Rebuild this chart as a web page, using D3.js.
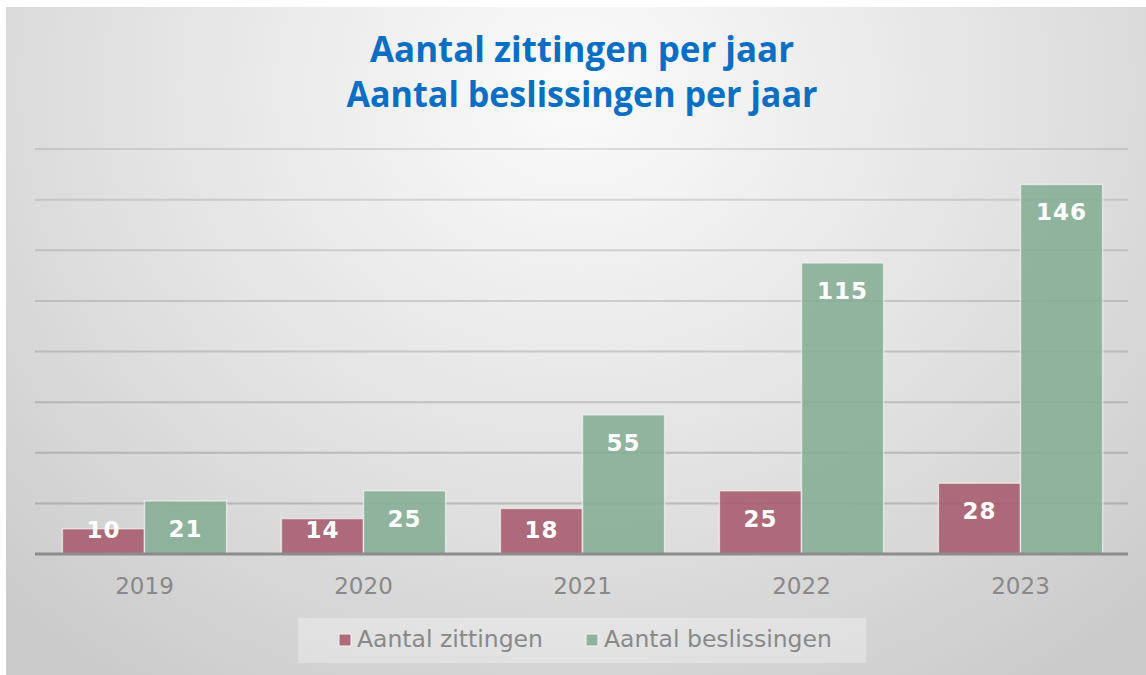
<!DOCTYPE html>
<html>
<head>
<meta charset="utf-8">
<script src="https://cdn.jsdelivr.net/npm/d3@7"></script>
<style>
  html, body { margin: 0; padding: 0; background: #fff; }
  svg { display: block; }
</style>
</head>
<body>
<script>
// chart data
var years = ["2019", "2020", "2021", "2022", "2023"];
var zittingen = [10, 14, 18, 25, 28];
var beslissingen = [21, 25, 55, 115, 146];
var seriesNames = ["Aantal zittingen", "Aantal beslissingen"];
var titleLines = ["Aantal zittingen per jaar", "Aantal beslissingen per jaar"];
var yTicks = [0, 20, 40, 60, 80, 100, 120, 140, 160];

var W = 1146, H = 675;
var colors = ["#a65a6d", "#85ad95"];

var svg = d3.select("body").append("svg")
    .attr("width", W)
    .attr("height", H);

// background gradient, white in the upper middle and grey towards the edges
var defs = svg.append("defs");
var grad = defs.append("radialGradient")
    .attr("id", "bg")
    .attr("cx", "50%").attr("cy", "12%")
    .attr("r", "72%")
    .attr("gradientTransform", "translate(0.5,0.12) scale(1,1.5) translate(-0.5,-0.12)");
grad.append("stop").attr("offset", "0%").attr("stop-color", "#fbfbfb");
grad.append("stop").attr("offset", "55%").attr("stop-color", "#e2e2e2");
grad.append("stop").attr("offset", "100%").attr("stop-color", "#cbcbcb");

svg.append("rect")
    .attr("x", 6).attr("y", 7)
    .attr("width", W - 6).attr("height", H - 7)
    .attr("fill", "url(#bg)");

// title
var title = svg.append("g");
title.selectAll("text")
  .data(titleLines)
  .enter().append("text")
    .attr("x", 582)
    .attr("y", function(d, i) { return 62 + i * 45; })
    .attr("text-anchor", "middle")
    .attr("font-family", "'Open Sans', sans-serif")
    .attr("font-weight", "bold")
    .attr("font-size", 35)
    .attr("fill", "#0a6fc2")
    .attr("textLength", function(d, i) { return i == 0 ? 424 : 471; })
    .attr("lengthAdjust", "spacingAndGlyphs")
    .text(function(d) { return d; });

// scales
var x0 = d3.scaleBand()
    .domain(years)
    .range([35, 1130])
    .paddingInner(0.25)
    .paddingOuter(0.125);

var x1 = d3.scaleBand()
    .domain([0, 1])
    .range([0, x0.bandwidth()]);

var y = d3.scaleLinear()
    .domain([0, 160])
    .range([554, 149]);

// gridlines
svg.append("g")
  .selectAll("line")
  .data(yTicks.slice(1))
  .enter().append("line")
    .attr("x1", 35).attr("x2", 1128)
    .attr("y1", function(d) { return y(d); })
    .attr("y2", function(d) { return y(d); })
    .attr("stroke", "#777")
    .attr("stroke-opacity", function(d) { return 0.22 + 0.18 * (1 - d / 160); })
    .attr("stroke-width", 2);

// bars
var rows = years.map(function(yr, i) { return { year: yr, vals: [zittingen[i], beslissingen[i]] }; });

var groups = svg.append("g").selectAll("g")
  .data(rows)
  .enter().append("g")
    .attr("transform", function(d) { return "translate(" + x0(d.year) + ",0)"; });

var cells = groups.selectAll("g")
  .data(function(d) { return d.vals.map(function(v, k) { return { k: k, v: v }; }); })
  .enter().append("g");

cells.append("rect")
    .attr("x", function(d) { return x1(d.k); })
    .attr("y", function(d) { return y(d.v); })
    .attr("width", x1.bandwidth())
    .attr("height", function(d) { return y(0) - y(d.v); })
    .attr("fill", function(d) { return colors[d.k]; })
    .attr("fill-opacity", 0.88)
    .attr("stroke", "#f4f4f4")
    .attr("stroke-opacity", 0.7)
    .attr("stroke-width", 1.5);

cells.append("text")
    .attr("x", function(d) { return x1(d.k) + x1.bandwidth() / 2; })
    .attr("y", function(d) { return Math.min(y(d.v) + 36, 538); })
    .attr("text-anchor", "middle")
    .attr("font-family", "'DejaVu Sans', Verdana, sans-serif")
    .attr("font-weight", "bold")
    .attr("font-size", 23)
    .attr("letter-spacing", 1)
    .attr("fill", "#fff")
    .text(function(d) { return d.v; });

// baseline + x axis labels
var xAxis = svg.append("g")
    .attr("transform", "translate(0," + y(0) + ")")
    .call(d3.axisBottom(x0).tickSize(0).tickPadding(24));
xAxis.select(".domain")
    .attr("d", "M35,0H1128")
    .attr("stroke", "#8c8c8c")
    .attr("stroke-width", 3);
xAxis.selectAll("text")
    .attr("font-family", "'DejaVu Sans', Verdana, sans-serif")
    .attr("font-size", 23)
    .attr("fill", "#898989");

// legend
var legend = svg.append("g");
legend.append("rect")
    .attr("x", 298).attr("y", 618)
    .attr("width", 568).attr("height", 45)
    .attr("fill", "#fff")
    .attr("fill-opacity", 0.3);

var legX = [339, 586];
var items = legend.selectAll("g.item")
  .data(seriesNames)
  .enter().append("g")
    .attr("class", "item")
    .attr("transform", function(d, i) { return "translate(" + legX[i] + ",634)"; });
items.append("rect")
    .attr("width", 12).attr("height", 12)
    .attr("fill", function(d, i) { return colors[i]; })
    .attr("fill-opacity", 0.88)
    .attr("stroke", "#f4f4f4")
    .attr("stroke-width", 1);
items.append("text")
    .attr("x", 18).attr("y", 13)
    .attr("font-family", "'DejaVu Sans', Verdana, sans-serif")
    .attr("font-size", 23.5)
    .attr("fill", "#898989")
    .text(function(d) { return d; });
</script>
</body>
</html>
